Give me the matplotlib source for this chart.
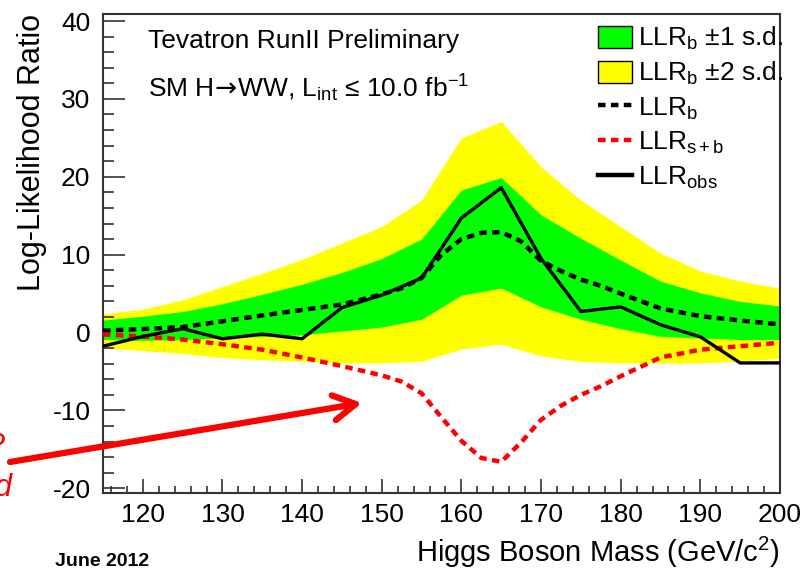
import matplotlib
matplotlib.use("Agg")
import matplotlib.pyplot as plt
import numpy as np
from matplotlib.patches import Patch
from matplotlib.lines import Line2D
from matplotlib.ticker import MultipleLocator

##############################################################################
# Data
mass = [115, 120, 125, 130, 135, 140, 145, 150, 155, 160, 165, 170, 175, 180, 185, 190, 195, 200]
band2_hi = [2.4, 3.0, 4.2, 5.9, 7.6, 9.4, 11.5, 13.6, 17.0, 25.0, 27.1, 21.3, 17.0, 13.6, 10.2, 7.9, 6.6, 5.7]
band1_hi = [1.6, 2.1, 2.7, 3.7, 4.9, 6.2, 7.7, 9.5, 12.0, 18.3, 19.9, 15.1, 12.1, 9.3, 6.6, 5.1, 4.0, 3.4]
band1_lo = [-0.9, -1.0, -0.9, -0.7, -0.5, -0.3, 0.2, 0.7, 1.7, 4.8, 5.7, 3.3, 1.7, 0.5, -0.5, -0.7, -0.9, -0.9]
band2_lo = [-2.0, -2.3, -2.7, -3.2, -3.5, -3.7, -3.9, -3.9, -3.7, -2.1, -1.5, -3.0, -3.7, -3.9, -3.9, -3.9, -3.7, -3.3]
llr_obs = [-1.75, -0.5, 0.5, -0.8, -0.2, -0.8, 3.2, 4.8, 7.0, 14.7, 18.6, 9.5, 2.7, 3.3, 1.0, -0.55, -3.9, -3.9]

mass_exp = [115, 120, 125, 130, 135, 140, 145, 150, 152.5, 155, 157.5, 160, 162.5, 165,
            167.5, 170, 172.5, 175, 177.5, 180, 185, 190, 195, 200]
llr_b = [0.25, 0.45, 0.7, 1.45, 2.2, 2.9, 3.6, 4.9, 5.7, 7.0, 10.0, 12.0, 12.8, 12.9,
         11.7, 9.2, 7.9, 6.8, 6.0, 5.0, 3.1, 2.1, 1.55, 1.05]
llr_sb = [-0.25, -0.5, -0.9, -1.5, -2.2, -3.2, -4.3, -5.5, -6.3, -7.8, -10.9, -13.9, -16.1, -16.6,
          -14.1, -11.2, -9.4, -8.0, -6.9, -5.6, -3.2, -2.2, -1.75, -1.3]

##############################################################################
# Style
plt.rcParams['font.family'] = ['Liberation Sans', 'DejaVu Sans']
plt.rcParams['mathtext.fontset'] = 'custom'
plt.rcParams['mathtext.rm'] = 'Liberation Sans'
plt.rcParams['mathtext.it'] = 'Liberation Sans:italic'
plt.rcParams['mathtext.bf'] = 'Liberation Sans:bold'
plt.rcParams['mathtext.sf'] = 'DejaVu Sans'
plt.rcParams['axes.unicode_minus'] = False

green = '#00ff00'
yellow = '#ffff00'
dash = (0, (1.7, 1.2))

fig = plt.figure(figsize=(8.03, 5.72), dpi=100)
ax = fig.add_axes([103/803, 79/572, 677/803, 479/572])

ax.fill_between(mass, band2_lo, band2_hi, color=yellow, lw=0, zorder=1)
ax.fill_between(mass, band1_lo, band1_hi, color=green, lw=0, zorder=2)
ax.plot(mass_exp, llr_b, color='black', lw=3.2, linestyle=dash, zorder=3)
ax.plot(mass_exp, llr_sb, color='red', lw=3.2, linestyle=dash, zorder=3)
ax.plot(mass, llr_obs, color='black', lw=2.4, zorder=4)

ax.set_xlim(115, 200)
ax.set_ylim(-20.6, 40.9)

# axes & ticks
ax.xaxis.set_major_locator(MultipleLocator(10))
ax.xaxis.set_minor_locator(MultipleLocator(2))
ax.yaxis.set_major_locator(MultipleLocator(10))
ax.yaxis.set_minor_locator(MultipleLocator(2))
ax.tick_params(which='both', direction='in', top=False, right=False, colors='#333333',
               labelcolor='black', labelsize=19, width=1.2)
ax.xaxis.set_tick_params(which='major', length=10, pad=7)
ax.xaxis.set_tick_params(which='minor', length=5)
ax.yaxis.set_tick_params(which='major', length=16, pad=9)
ax.yaxis.set_tick_params(which='minor', length=8)
for sp in ax.spines.values():
    sp.set_color('#333333')
    sp.set_linewidth(1.5)

ax.set_xlabel(r'Higgs Boson Mass (GeV/c$^{2}$)', fontsize=21, loc='right')
ax.xaxis.set_label_coords(1.0, -0.088)
ax.xaxis.label.set_va('top')
ax.set_ylabel('Log-Likelihood Ratio', fontsize=22, loc='top')
ax.yaxis.set_label_coords(-0.083, 1.0)

# labels in the plot
fig.text(148/803, 1 - 48/572, 'Tevatron RunII Preliminary', fontsize=19, va='baseline')
fig.text(148/803, 1 - 97/572,
         r'SM H$\!\mathsf{\rightarrow}\!$WW, L$_{\mathrm{int}}$ ≤ 10.0 fb$^{\mathrm{-1}}$',
         fontsize=19, va='baseline')

handles = [Patch(facecolor=green, edgecolor='black', lw=1),
           Patch(facecolor=yellow, edgecolor='black', lw=1),
           Line2D([], [], color='black', lw=3.2, linestyle=dash),
           Line2D([], [], color='red', lw=3.2, linestyle=dash),
           Line2D([], [], color='black', lw=3.2)]
labels = [r'LLR$_{\mathrm{b}}$ ±1 s.d.', r'LLR$_{\mathrm{b}}$ ±2 s.d.',
          r'LLR$_{\mathrm{b}}$', r'LLR$_{\mathrm{s+b}}$', r'LLR$_{\mathrm{obs}}$']
ax.legend(handles, labels, loc='upper left', bbox_to_anchor=(598/803, 1 - 25/572),
          bbox_transform=fig.transFigure, frameon=False, fontsize=19, borderpad=0,
          borderaxespad=0, handlelength=1.3, handleheight=0.95, handletextpad=0.2,
          labelspacing=0.3)

# annotation outside the frame
ax.annotate('', xy=(362/803, 1 - 403/572), xytext=(10/803, 1 - 462/572),
            xycoords='figure fraction', textcoords='figure fraction',
            arrowprops=dict(arrowstyle='->,head_length=0.8,head_width=0.45', color='red',
                            lw=4.5, mutation_scale=20, shrinkA=0, shrinkB=0),
            annotation_clip=False)
fig.text(5/803, 1 - 447/572, '?', color='red', style='italic', fontsize=22, ha='right', va='center')
fig.text(12/803, 1 - 488/572, 'd', color='red', style='italic', fontsize=22, ha='right', va='center')
fig.text(55/803, 1 - 562/572, 'June 2012', fontsize=14, weight='bold', va='center')

fig.savefig('out.png', dpi=100)
